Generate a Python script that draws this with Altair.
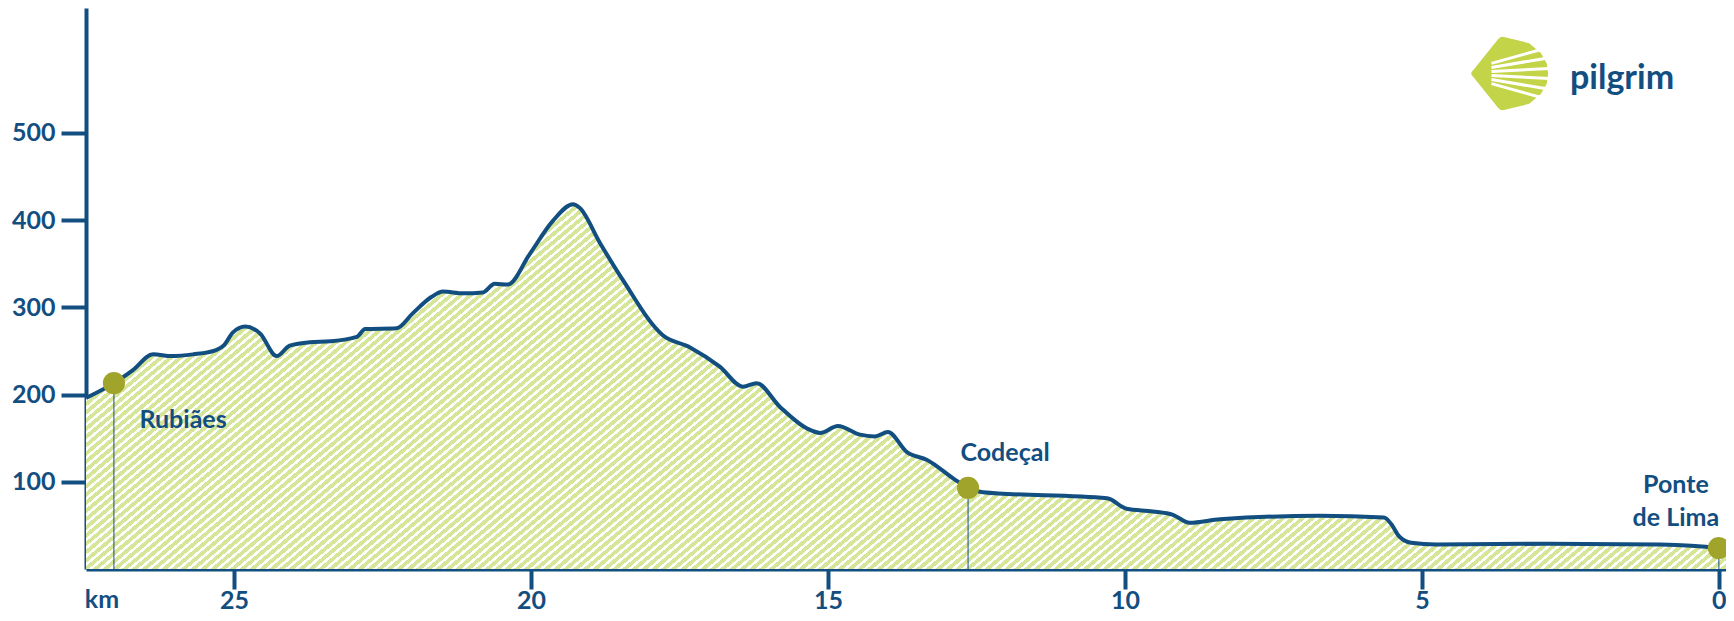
import math
import altair as alt
import pandas as pd

# ---------------- data ----------------
km = [27.49, 27.02, 26.70, 26.36, 26.05, 25.69, 25.30, 25.16, 25.02, 24.81,
      24.56, 24.28, 24.06, 23.72, 23.38, 22.93, 22.79, 22.26, 21.99, 21.67,
      21.48, 21.14, 20.81, 20.61, 20.39, 20.02, 19.63, 19.29, 19.18, 18.84,
      18.45, 17.78, 17.32, 16.82, 16.43, 16.20, 15.81, 15.35, 15.13, 14.83,
      14.46, 14.21, 13.99, 13.67, 13.33, 12.83, 12.64, 12.39, 10.30, 9.97,
      9.53, 9.19, 8.91, 8.40, 6.72, 5.64, 5.51, 5.39, 5.18, 4.76,
      2.85, 0.99, 0.0, -0.12]
elev = [196, 213, 228, 246, 244, 246, 251, 257, 271, 278,
        270, 244, 256, 260, 261, 266, 275, 276, 293, 312,
        318, 316, 317, 327, 326, 361, 399, 418, 414, 374,
        331, 268, 254, 232, 209, 213, 186, 161, 156, 164,
        154, 152, 157, 134, 125, 101, 93, 88, 81, 69,
        66, 62, 53, 57, 61, 59, 51, 38, 30, 28,
        29, 28, 24, 23]

place_names = ["Rubiães", "Codeçal", "Ponte\nde Lima"]
place_km = [27.02, 12.64, 0.0]
place_elev = [213, 93, 24]

x_ticks = [25, 20, 15, 10, 5, 0]
y_ticks = [100, 200, 300, 400, 500]
logo_text = "pilgrim"
unit_text = "km"

# ---------------- style ----------------
BLUE = "#134e81"
OLIVE = "#a1a42b"
STRIPE = "#d6e699"
LOGO_GREEN = "#c3d448"
FONT = "Lato"
AX_FS = 25
LAB_FS = 25

W, H = 1640, 561
X_DOMAIN = [27.49, -0.12]
Y_DOMAIN = [0, 643]

profile = pd.DataFrame({"km": km, "elev": elev})
places = pd.DataFrame({"name": place_names, "km": place_km, "elev": place_elev})

# hatch fill built as a striped linear gradient (objectBoundingBox units)
theta = math.radians(40)
period = 6.3
green_frac = 0.6
W_area = W
H_area = H * max(elev) / Y_DOMAIN[1]
p = math.sin(theta) / H_area
q = math.cos(theta) / W_area
s = (p + q) / (p * p + q * q)
gx, gy = s * p, s * q
ext = W_area * math.sin(theta) + H_area * math.cos(theta)
n = ext / period
stops = []
k = 0
while k / n < 1:
    a = k / n
    b = min((k + green_frac) / n, 1.0)
    c = min((k + 1) / n, 1.0)
    stops += [alt.GradientStop(offset=round(a, 6), color=STRIPE),
              alt.GradientStop(offset=round(b, 6), color=STRIPE),
              alt.GradientStop(offset=round(b, 6), color="#ffffff"),
              alt.GradientStop(offset=round(c, 6), color="#ffffff")]
    k += 1
hatch = alt.Gradient(gradient="linear", stops=stops, x1=0, y1=0, x2=gx, y2=gy)

x_enc = alt.X("km:Q",
              scale=alt.Scale(domain=X_DOMAIN, nice=False, zero=False),
              axis=alt.Axis(values=x_ticks, title=None, grid=False, format="d",
                            domainColor=BLUE, domainWidth=4, tickColor=BLUE,
                            tickWidth=4, tickSize=20, labelColor=BLUE,
                            labelFont=FONT, labelFontSize=AX_FS, labelFontWeight="bold",
                            labelPadding=19, labelBaseline="alphabetic",
                            labelFlush=False, labelOverlap=False))
y_enc = alt.Y("elev:Q",
              scale=alt.Scale(domain=Y_DOMAIN, nice=False, zero=True),
              axis=alt.Axis(values=y_ticks, title=None, grid=False, format="d",
                            domainColor=BLUE, domainWidth=4, tickColor=BLUE,
                            tickWidth=4, tickSize=25, labelColor=BLUE,
                            labelFont=FONT, labelFontSize=AX_FS, labelFontWeight="bold",
                            labelPadding=6, labelOverlap=False))

base = alt.Chart(profile)
area = base.mark_area(interpolate="monotone", color=hatch, clip=True).encode(x=x_enc, y=y_enc)
line = base.mark_line(interpolate="monotone", color=BLUE, strokeWidth=4, clip=True).encode(
    x=alt.X("km:Q"), y=alt.Y("elev:Q"))

pl = alt.Chart(places)
drops = pl.mark_rule(color=BLUE, strokeWidth=1).encode(
    x="km:Q", y="elev:Q", y2=alt.datum(0))
dots = pl.mark_circle(size=490, color=OLIVE, opacity=1).encode(x="km:Q", y="elev:Q")

def label(name, **kw):
    return pl.transform_filter(alt.datum.name == name).mark_text(
        font=FONT, fontSize=LAB_FS, fontWeight="bold", color=BLUE,
        baseline="alphabetic", **kw).encode(x="km:Q", y="elev:Q", text="name:N")

lab1 = label(place_names[0], align="left", dx=25.5, dy=44.5)
lab2 = label(place_names[1], align="left", dx=-7.6, dy=-26.5)
lab3 = label(place_names[2], align="center", dx=-43, dy=-55, lineBreak="\n", lineHeight=33)

one = alt.Chart(pd.DataFrame({"a": [0]}))
SHELL = ("M -0.9 -0.08 L -0.271 -0.864 Q -0.2 -0.94 -0.127 -0.915 L 0.508 -0.763 "
         "L 0.805 -0.508 L 0.949 -0.254 L 0.983 0 L 0.949 0.254 L 0.805 0.508 "
         "L 0.508 0.763 L -0.127 0.915 Q -0.2 0.94 -0.271 0.864 L -0.9 0.08 "
         "Q -1.0 0 -0.9 -0.08 Z")
GAPS = ("M -0.441 -0.255 L 1.017 -0.661 M -0.441 -0.153 L 1.017 -0.398 "
        "M -0.441 -0.049 L 1.017 -0.127 M -0.441 0.049 L 1.017 0.127 "
        "M -0.441 0.153 L 1.017 0.398 M -0.441 0.255 L 1.017 0.661")
shell = one.mark_point(shape=SHELL, size=6336, filled=True, fill=LOGO_GREEN,
                       strokeWidth=0, opacity=1).encode(x=alt.value(1423), y=alt.value(65.5))
gaps = one.mark_point(shape=GAPS, size=6336, filled=False, stroke="#ffffff",
                      strokeWidth=3, opacity=1).encode(x=alt.value(1423), y=alt.value(65.5))
logo = one.mark_text(text=logo_text, font=FONT, fontSize=34, fontWeight="bold",
                     color=BLUE, align="left", baseline="alphabetic").encode(
    x=alt.value(1484), y=alt.value(80.5))
unit = one.mark_text(text=unit_text, font=FONT, fontSize=AX_FS, fontWeight="bold",
                     color=BLUE, align="center", baseline="alphabetic").encode(
    x=alt.value(16), y=alt.value(600))

chart = alt.layer(area, line, drops, dots, lab1, lab2, lab3, shell, gaps, logo, unit).properties(
    width=W, height=H,
    padding={"left": 78, "top": 0, "right": 0, "bottom": 44},
    autosize="none",
).configure_view(stroke=None)

chart.save("out.html", embed_options={"renderer": "svg", "actions": False})
